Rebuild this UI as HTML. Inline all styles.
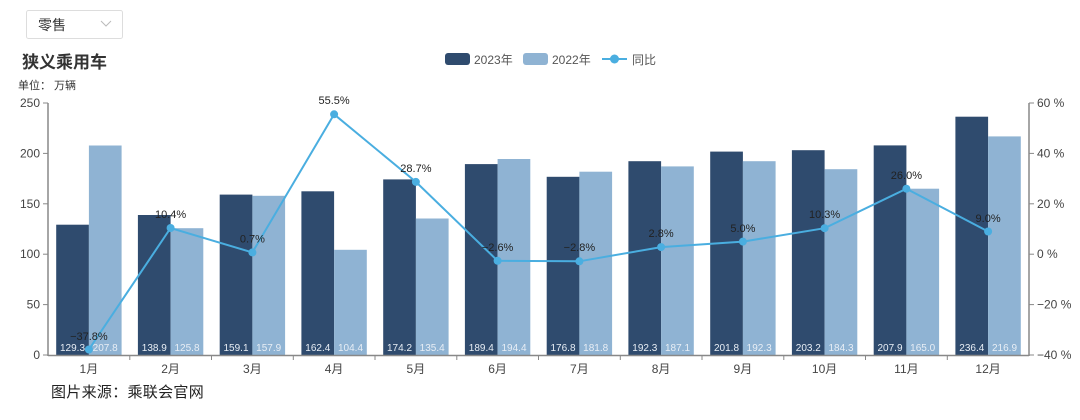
<!DOCTYPE html>
<html><head><meta charset="utf-8"><style>
html,body{margin:0;padding:0;background:#fff;}
svg text{font-family:"Liberation Sans","Noto Sans CJK SC",sans-serif;}
</style></head><body>
<svg width="1080" height="415" xmlns="http://www.w3.org/2000/svg">
<rect x="26.5" y="10.5" width="96" height="28" fill="#fff" stroke="#ddd" rx="2"/>
<text x="38" y="30" font-size="14" fill="#333">零售</text>
<polyline points="101,21 106,26 111,21" fill="none" stroke="#bbb" stroke-width="1"/>
<text x="22" y="68" font-size="17" font-weight="bold" fill="#333">狭义乘用车</text>
<text x="18" y="89" font-size="11" fill="#333">单位：  万辆</text>
<g font-size="12" fill="#555">
<rect x="445" y="53" width="25" height="12" rx="3" fill="#2f4b6e"/><text x="474" y="64">2023年</text>
<rect x="523" y="53" width="25" height="12" rx="3" fill="#8fb3d3"/><text x="552" y="64">2022年</text>
<line x1="602" y1="59" x2="627" y2="59" stroke="#4aaee0" stroke-width="2"/><circle cx="614.5" cy="59" r="4.5" fill="#4aaee0"/><text x="632" y="64">同比</text>
</g>
<g fill="#2f4b6e">
<rect x="56.2" y="224.7" width="32.7" height="130.3"/>
<rect x="137.9" y="215.0" width="32.7" height="140"/>
<rect x="219.7" y="194.6" width="32.7" height="160.4"/>
<rect x="301.4" y="191.3" width="32.7" height="163.7"/>
<rect x="383.2" y="179.4" width="32.7" height="175.6"/>
<rect x="464.9" y="164.1" width="32.7" height="190.9"/>
<rect x="546.7" y="176.8" width="32.7" height="178.2"/>
<rect x="628.4" y="161.2" width="32.7" height="193.8"/>
<rect x="710.2" y="151.6" width="32.7" height="203.4"/>
<rect x="791.9" y="150.2" width="32.7" height="204.8"/>
<rect x="873.7" y="145.4" width="32.7" height="209.6"/>
<rect x="955.4" y="116.7" width="32.7" height="238.3"/>
</g>
<g fill="#8fb3d3">
<rect x="88.9" y="145.5" width="32.7" height="209.5"/>
<rect x="170.6" y="228.2" width="32.7" height="126.8"/>
<rect x="252.4" y="195.8" width="32.7" height="159.2"/>
<rect x="334.1" y="249.8" width="32.7" height="105.2"/>
<rect x="415.9" y="218.5" width="32.7" height="136.5"/>
<rect x="497.6" y="159.0" width="32.7" height="196"/>
<rect x="579.4" y="171.7" width="32.7" height="183.3"/>
<rect x="661.1" y="166.4" width="32.7" height="188.6"/>
<rect x="742.9" y="161.2" width="32.7" height="193.8"/>
<rect x="824.6" y="169.2" width="32.7" height="185.8"/>
<rect x="906.4" y="188.7" width="32.7" height="166.3"/>
<rect x="988.1" y="136.4" width="32.7" height="218.6"/>
</g>
<g font-size="10" fill="#e8eef5" text-anchor="middle">
<text x="72.5" y="351">129.3</text><text x="105.2" y="351">207.8</text>
<text x="154.3" y="351">138.9</text><text x="187" y="351">125.8</text>
<text x="236" y="351">159.1</text><text x="268.7" y="351">157.9</text>
<text x="317.8" y="351">162.4</text><text x="350.5" y="351">104.4</text>
<text x="399.5" y="351">174.2</text><text x="432.2" y="351">135.4</text>
<text x="481.3" y="351">189.4</text><text x="514" y="351">194.4</text>
<text x="563" y="351">176.8</text><text x="595.7" y="351">181.8</text>
<text x="644.8" y="351">192.3</text><text x="677.5" y="351">187.1</text>
<text x="726.5" y="351">201.8</text><text x="759.2" y="351">192.3</text>
<text x="808.3" y="351">203.2</text><text x="841" y="351">184.3</text>
<text x="890" y="351">207.9</text><text x="922.7" y="351">165.0</text>
<text x="971.8" y="351">236.4</text><text x="1004.5" y="351">216.9</text>
</g>
<polyline fill="none" stroke="#4aaee0" stroke-width="2" points="88.9,349.5 170.6,228 252.4,252.4 334.1,114.3 415.9,181.9 497.6,260.8 579.4,261.3 661.1,247.1 742.9,241.6 824.6,228.2 906.4,188.7 988.1,231.5"/>
<g fill="#4aaee0">
<circle cx="88.9" cy="349.5" r="4"/><circle cx="170.6" cy="228" r="4"/><circle cx="252.4" cy="252.4" r="4"/><circle cx="334.1" cy="114.3" r="4"/><circle cx="415.9" cy="181.9" r="4"/><circle cx="497.6" cy="260.8" r="4"/><circle cx="579.4" cy="261.3" r="4"/><circle cx="661.1" cy="247.1" r="4"/><circle cx="742.9" cy="241.6" r="4"/><circle cx="824.6" cy="228.2" r="4"/><circle cx="906.4" cy="188.7" r="4"/><circle cx="988.1" cy="231.5" r="4"/>
</g>
<g font-size="11" fill="#222" text-anchor="middle">
<text x="88.9" y="340">−37.8%</text><text x="170.6" y="218">10.4%</text><text x="252.4" y="242.5">0.7%</text><text x="334.1" y="104">55.5%</text><text x="415.9" y="172">28.7%</text><text x="497.6" y="251">−2.6%</text><text x="579.4" y="251">−2.8%</text><text x="661.1" y="237">2.8%</text><text x="742.9" y="232">5.0%</text><text x="824.6" y="218">10.3%</text><text x="906.4" y="179">26.0%</text><text x="988.1" y="222">9.0%</text>
</g>
<g stroke="#888" stroke-width="1.5" fill="none">
<line x1="48" y1="103" x2="48" y2="356"/>
<line x1="1029" y1="103" x2="1029" y2="356"/>
<line x1="48" y1="355.5" x2="1029" y2="355.5"/>
</g>
<g stroke="#888" stroke-width="1">
<line x1="43" y1="103" x2="48" y2="103"/><line x1="43" y1="153.4" x2="48" y2="153.4"/><line x1="43" y1="203.8" x2="48" y2="203.8"/><line x1="43" y1="254.2" x2="48" y2="254.2"/><line x1="43" y1="304.6" x2="48" y2="304.6"/><line x1="43" y1="355" x2="48" y2="355"/>
<line x1="1029" y1="103" x2="1034" y2="103"/><line x1="1029" y1="153.4" x2="1034" y2="153.4"/><line x1="1029" y1="203.8" x2="1034" y2="203.8"/><line x1="1029" y1="254.2" x2="1034" y2="254.2"/><line x1="1029" y1="304.6" x2="1034" y2="304.6"/><line x1="1029" y1="355" x2="1034" y2="355"/>
<line x1="129.8" y1="355" x2="129.8" y2="360"/><line x1="211.5" y1="355" x2="211.5" y2="360"/><line x1="293.3" y1="355" x2="293.3" y2="360"/><line x1="375" y1="355" x2="375" y2="360"/><line x1="456.8" y1="355" x2="456.8" y2="360"/><line x1="538.5" y1="355" x2="538.5" y2="360"/><line x1="620.3" y1="355" x2="620.3" y2="360"/><line x1="702" y1="355" x2="702" y2="360"/><line x1="783.8" y1="355" x2="783.8" y2="360"/><line x1="865.5" y1="355" x2="865.5" y2="360"/><line x1="947.3" y1="355" x2="947.3" y2="360"/>
</g>
<g font-size="12" fill="#444" text-anchor="end">
<text x="40" y="107">250</text><text x="40" y="157.4">200</text><text x="40" y="207.8">150</text><text x="40" y="258.2">100</text><text x="40" y="308.6">50</text><text x="40" y="359">0</text>
</g>
<g font-size="12" fill="#444">
<text x="1037" y="107">60 %</text><text x="1037" y="157.4">40 %</text><text x="1037" y="207.8">20 %</text><text x="1037" y="258.2">0 %</text><text x="1037" y="308.6">−20 %</text><text x="1037" y="359">−40 %</text>
</g>
<g font-size="12" fill="#444" text-anchor="middle">
<text x="88.9" y="373">1月</text><text x="170.6" y="373">2月</text><text x="252.4" y="373">3月</text><text x="334.1" y="373">4月</text><text x="415.9" y="373">5月</text><text x="497.6" y="373">6月</text><text x="579.4" y="373">7月</text><text x="661.1" y="373">8月</text><text x="742.9" y="373">9月</text><text x="824.6" y="373">10月</text><text x="906.4" y="373">11月</text><text x="988.1" y="373">12月</text>
</g>
<text x="51" y="397" font-size="15" fill="#222" font-family="'Noto Serif CJK SC',serif" letter-spacing="0.3">图片来源：乘联会官网</text>
</svg>
</body></html>
